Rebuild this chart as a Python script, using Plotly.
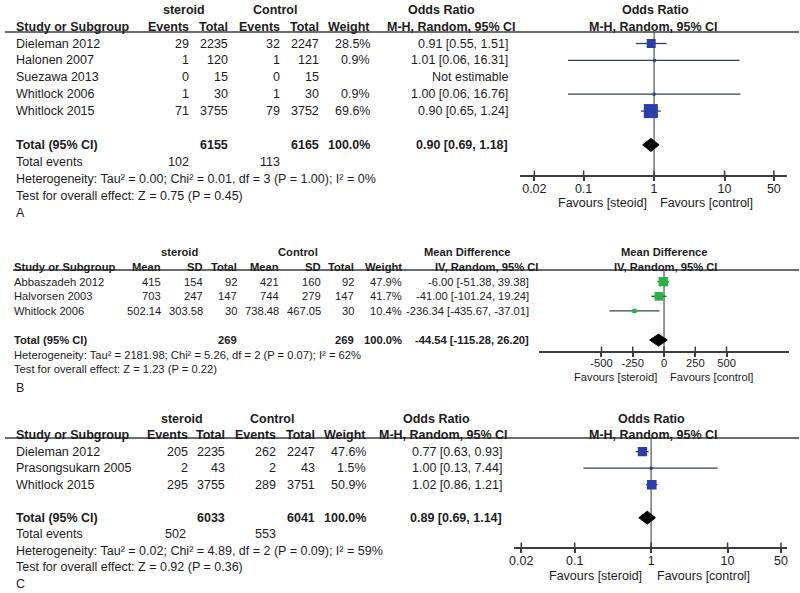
import math
import plotly.graph_objects as go

W, H = 800, 593
FONT = "Arial, 'Liberation Sans', sans-serif"
TXT = "#1c1c1c"
LINE = "#3d3d3d"
BLUE = "#2b3dae"
GREEN = "#24b444"
CI_COL = "#34444f"

# ---------------- Panel A data ----------------
A_studies = ["Dieleman 2012", "Halonen 2007", "Suezawa 2013", "Whitlock 2006", "Whitlock 2015"]
A_ev_s = [29, 1, 0, 1, 71]
A_tot_s = [2235, 120, 15, 30, 3755]
A_ev_c = [32, 1, 0, 1, 79]
A_tot_c = [2247, 121, 15, 30, 3752]
A_weight = [28.5, 0.9, None, 0.9, 69.6]
A_or = [0.91, 1.01, None, 1.00, 0.90]
A_lo = [0.55, 0.06, None, 0.06, 0.65]
A_hi = [1.51, 16.31, None, 16.76, 1.24]
A_total_n = [6155, 6165]
A_total_events = [102, 113]
A_total_eff = [0.90, 0.69, 1.18]
A_het = "Heterogeneity: Tau² = 0.00; Chi² = 0.01, df = 3 (P = 1.00); I² = 0%"
A_test = "Test for overall effect: Z = 0.75 (P = 0.45)"
A_ticks = [0.02, 0.1, 1, 10, 50]
A_ticklabels = ["0.02", "0.1", "1", "10", "50"]

# ---------------- Panel B data ----------------
B_studies = ["Abbaszadeh 2012", "Halvorsen 2003", "Whitlock 2006"]
B_mean_s = ["415", "703", "502.14"]
B_sd_s = ["154", "247", "303.58"]
B_tot_s = [92, 147, 30]
B_mean_c = ["421", "744", "738.48"]
B_sd_c = ["160", "279", "467.05"]
B_tot_c = [92, 147, 30]
B_weight = [47.9, 41.7, 10.4]
B_md = [-6.00, -41.00, -236.34]
B_lo = [-51.38, -101.24, -435.67]
B_hi = [39.38, 19.24, -37.01]
B_total_n = [269, 269]
B_total_eff = [-44.54, -115.28, 26.20]
B_het = "Heterogeneity: Tau² = 2181.98; Chi² = 5.26, df = 2 (P = 0.07); I² = 62%"
B_test = "Test for overall effect: Z = 1.23 (P = 0.22)"
B_ticks = [-500, -250, 0, 250, 500]
B_ticklabels = ["-500", "-250", "0", "250", "500"]

# ---------------- Panel C data ----------------
C_studies = ["Dieleman 2012", "Prasongsukarn 2005", "Whitlock 2015"]
C_ev_s = [205, 2, 295]
C_tot_s = [2235, 43, 3755]
C_ev_c = [262, 2, 289]
C_tot_c = [2247, 43, 3751]
C_weight = [47.6, 1.5, 50.9]
C_or = [0.77, 1.00, 1.02]
C_lo = [0.63, 0.13, 0.86]
C_hi = [0.93, 7.44, 1.21]
C_total_n = [6033, 6041]
C_total_events = [502, 553]
C_total_eff = [0.89, 0.69, 1.14]
C_het = "Heterogeneity: Tau² = 0.02; Chi² = 4.89, df = 2 (P = 0.09); I² = 59%"
C_test = "Test for overall effect: Z = 0.92 (P = 0.36)"
C_ticks = [0.02, 0.1, 1, 10, 50]
C_ticklabels = ["0.02", "0.1", "1", "10", "50"]

fig = go.Figure()
ann = []
shapes = []
layout_axes = {}


def text(x, y, s, anchor="left", size=12, bold=False):
    ann.append(dict(x=x / W, y=1 - y / H, xref="paper", yref="paper",
                    text=f"<b>{s}</b>" if bold else s, showarrow=False,
                    xanchor=anchor, yanchor="middle", borderpad=0,
                    font=dict(family=FONT, size=size, color=TXT)))


def hline(y, x0, x1):
    shapes.append(dict(type="line", xref="paper", yref="paper",
                       x0=x0 / W, x1=x1 / W, y0=1 - y / H, y1=1 - y / H,
                       line=dict(color=LINE, width=1.3)))


def fmt_eff(e, l, h):
    return f"{e:.2f} [{l:.2f}, {h:.2f}]"


def forest(idx, est, lo, hi, weights, tot, color, k, L):
    xa = "x" if idx == 1 else f"x{idx}"
    ya = "y" if idx == 1 else f"y{idx}"
    y0, dy = L["y0"], L["dy"]
    row = lambda px: (px - y0) / dy
    ytop, ybot = L["ydom"]
    yr = [row(ybot), row(ytop)]
    null = L["null"]
    # null line
    fig.add_trace(go.Scatter(x=[null, null], y=yr, mode="lines",
                             line=dict(color="#555555", width=1.2),
                             xaxis=xa, yaxis=ya, hoverinfo="skip", showlegend=False))
    # inner halves of the crossing ticks
    tx, ty = [], []
    for t in L["ticks"]:
        tx += [t, t, None]
        ty += [row(ybot - 4.5), row(ybot), None]
    fig.add_trace(go.Scatter(x=tx, y=ty, mode="lines", line=dict(color=LINE, width=1.5),
                             xaxis=xa, yaxis=ya, hoverinfo="skip", showlegend=False))
    # CI lines
    xs, ys = [], []
    for r, (e, l, h) in enumerate(zip(est, lo, hi)):
        if e is None:
            continue
        xs += [l, h, None]
        ys += [r, r, None]
    fig.add_trace(go.Scatter(x=xs, y=ys, mode="lines", line=dict(color=CI_COL, width=1.3),
                             xaxis=xa, yaxis=ya, hoverinfo="skip", showlegend=False))
    # squares
    sx, sy, ss = [], [], []
    for r, (e, w) in enumerate(zip(est, weights)):
        if e is None:
            continue
        sx.append(e)
        sy.append(r)
        ss.append(max(3.0, k * math.sqrt(w)))
    fig.add_trace(go.Scatter(x=sx, y=sy, mode="markers",
                             marker=dict(symbol="square", size=ss, color=color, opacity=1,
                                         line=dict(width=0)),
                             xaxis=xa, yaxis=ya, hoverinfo="skip", showlegend=False))
    # diamond
    e, l, h = tot
    r = L["total_row"]
    hh = L["dh"] / dy
    fig.add_trace(go.Scatter(x=[l, e, h, e, l], y=[r, r - hh, r, r + hh, r], mode="lines",
                             fill="toself", fillcolor="black", line=dict(color="black", width=1),
                             xaxis=xa, yaxis=ya, hoverinfo="skip", showlegend=False))
    xname = "xaxis" if idx == 1 else f"xaxis{idx}"
    yname = "yaxis" if idx == 1 else f"yaxis{idx}"
    layout_axes[xname] = dict(domain=[L["xdom"][0] / W, L["xdom"][1] / W], range=L["xrange"],
                              type=L["xtype"], anchor=ya, showgrid=False, zeroline=False,
                              showline=True, linecolor=LINE, linewidth=1.5,
                              ticks="outside", ticklen=4, tickwidth=1.5, tickcolor=LINE,
                              tickvals=L["ticks"], ticktext=L["ticklabels"],
                              ticklabelstandoff=-3,
                              tickfont=dict(family=FONT, size=L["tfont"], color=TXT),
                              fixedrange=True)
    layout_axes[yname] = dict(domain=[1 - ybot / H, 1 - ytop / H], range=yr, visible=False,
                              anchor=xa, fixedrange=True)


# ================= Panel A =================
ya0, yad = 43.5, 16.9
yA = lambda r: ya0 + yad * r
fs = 12.5
text(180, yA(-2), "steroid", "center", fs, True)
text(272, yA(-2), "Control", "center", fs, True)
text(440, yA(-2), "Odds Ratio", "center", fs, True)
text(655, yA(-2), "Odds Ratio", "center", fs, True)
text(10, yA(-1), "Study or Subgroup", "left", fs, True)
for s, xr in zip(["Events", "Total", "Events", "Total", "Weight", "M-H, Random, 95% CI"],
                 [186, 226, 278, 317, 369, 516]):
    text(xr, yA(-1), s, "right", fs, True)
text(653, yA(-1), "M-H, Random, 95% CI", "center", fs, True)
hline(32, 0, 800)
for i, st in enumerate(A_studies):
    text(10, yA(i), st, "left", fs)
    for v, xr in zip([A_ev_s[i], A_tot_s[i], A_ev_c[i], A_tot_c[i]], [186, 226, 278, 317]):
        text(xr, yA(i), str(v), "right", fs)
    if A_weight[i] is not None:
        text(369, yA(i), f"{A_weight[i]:.1f}%", "right", fs)
        text(508, yA(i), fmt_eff(A_or[i], A_lo[i], A_hi[i]), "right", fs)
    else:
        text(508, yA(i), "Not estimable", "right", fs)
text(10, yA(6), "Total (95% CI)", "left", fs, True)
text(226, yA(6), str(A_total_n[0]), "right", fs, True)
text(317, yA(6), str(A_total_n[1]), "right", fs, True)
text(369, yA(6), "100.0%", "right", fs, True)
text(508, yA(6), fmt_eff(*A_total_eff), "right", fs, True)
text(10, yA(7), "Total events", "left", fs)
text(186, yA(7), str(A_total_events[0]), "right", fs)
text(278, yA(7), str(A_total_events[1]), "right", fs)
text(10, yA(8), A_het, "left", fs)
text(10, yA(9), A_test, "left", fs)
text(10, yA(10), "A", "left", fs)
text(648, 202.5, "Favours [steoid]", "right", fs)
text(659, 202.5, "Favours [control]", "left", fs)
forest(1, A_or, A_lo, A_hi, [w if w is not None else 0 for w in A_weight], A_total_eff, BLUE, 1.68,
       dict(y0=ya0, dy=yad, ydom=(32, 175), null=1, ticks=A_ticks, ticklabels=A_ticklabels,
            xdom=(519, 788), xrange=[-1.901, 1.887], xtype="log", tfont=12.5, total_row=6, dh=6.5))

# ================= Panel B =================
yb0, ybd = 281.7, 14.6
yB = lambda r: yb0 + ybd * r
fs = 11.2
text(176, yB(-2), "steroid", "center", fs, True)
text(295, yB(-2), "Control", "center", fs, True)
text(465, yB(-2), "Mean Difference", "center", fs, True)
text(664, yB(-2), "Mean Difference", "center", fs, True)
text(8, yB(-1), "Study or Subgroup", "left", fs, True)
for s, xr in zip(["Mean", "SD", "Total", "Mean", "SD", "Total", "Weight", "IV, Random, 95% CI"],
                 [158, 200, 235, 277, 319, 353, 401, 538]):
    text(xr, yB(-1), s, "right", fs, True)
text(665, yB(-1), "IV, Random, 95% CI", "center", fs, True)
hline(270, 8, 800)
for i, st in enumerate(B_studies):
    text(8, yB(i), st, "left", fs)
    for v, xr in zip([B_mean_s[i], B_sd_s[i], B_tot_s[i], B_mean_c[i], B_sd_c[i], B_tot_c[i]],
                     [158, 200, 235, 277, 319, 353]):
        text(xr, yB(i), str(v), "right", fs)
    text(401, yB(i), f"{B_weight[i]:.1f}%", "right", fs)
    text(529, yB(i), fmt_eff(B_md[i], B_lo[i], B_hi[i]), "right", fs)
text(8, yB(4), "Total (95% CI)", "left", fs, True)
text(235, yB(4), str(B_total_n[0]), "right", fs, True)
text(353, yB(4), str(B_total_n[1]), "right", fs, True)
text(401, yB(4), "100.0%", "right", fs, True)
text(529, yB(4), fmt_eff(*B_total_eff), "right", fs, True)
text(8, yB(5), B_het, "left", fs)
text(8, yB(6), B_test, "left", fs)
text(10, 388, "B", "left", 12.5)
text(658, 376.5, "Favours [steroid]", "right", fs)
text(669, 376.5, "Favours [control]", "left", fs)
forest(2, B_md, B_lo, B_hi, B_weight, B_total_eff, GREEN, 1.35,
       dict(y0=yb0, dy=ybd, ydom=(270, 351), null=0, ticks=B_ticks, ticklabels=B_ticklabels,
            xdom=(538, 790), xrange=[-1000, 1000], xtype="linear", tfont=11.2, total_row=4, dh=6))

# ================= Panel C =================
yc0, ycd = 451.7, 16.5
yC = lambda r: yc0 + ycd * r
fs = 12.5
text(178, yC(-2), "steroid", "center", fs, True)
text(269, yC(-2), "Control", "center", fs, True)
text(435, yC(-2), "Odds Ratio", "center", fs, True)
text(651, yC(-2), "Odds Ratio", "center", fs, True)
text(10, yC(-1), "Study or Subgroup", "left", fs, True)
for s, xr in zip(["Events", "Total", "Events", "Total", "Weight", "M-H, Random, 95% CI"],
                 [185, 223, 274, 313, 365, 508]):
    text(xr, yC(-1), s, "right", fs, True)
text(653, yC(-1), "M-H, Random, 95% CI", "center", fs, True)
hline(438, 0, 800)
for i, st in enumerate(C_studies):
    text(10, yC(i), st, "left", fs)
    for v, xr in zip([C_ev_s[i], C_tot_s[i], C_ev_c[i], C_tot_c[i]], [185, 223, 274, 313]):
        text(xr, yC(i), str(v), "right", fs)
    text(365, yC(i), f"{C_weight[i]:.1f}%", "right", fs)
    text(502, yC(i), fmt_eff(C_or[i], C_lo[i], C_hi[i]), "right", fs)
text(10, yC(4), "Total (95% CI)", "left", fs, True)
text(223, yC(4), str(C_total_n[0]), "right", fs, True)
text(313, yC(4), str(C_total_n[1]), "right", fs, True)
text(365, yC(4), "100.0%", "right", fs, True)
text(502, yC(4), fmt_eff(*C_total_eff), "right", fs, True)
text(10, yC(5), "Total events", "left", fs)
text(183, yC(5), str(C_total_events[0]), "right", fs)
text(274, yC(5), str(C_total_events[1]), "right", fs)
text(10, yC(6), C_het, "left", fs)
text(10, yC(7), C_test, "left", fs)
text(10, yC(8), "C", "left", fs)
text(643, 575.5, "Favours [steroid]", "right", fs)
text(656, 575.5, "Favours [control]", "left", fs)
forest(3, C_or, C_lo, C_hi, C_weight, C_total_eff, BLUE, 1.35,
       dict(y0=yc0, dy=ycd, ydom=(438, 547), null=1, ticks=C_ticks, ticklabels=C_ticklabels,
            xdom=(513, 788), xrange=[-1.792, 1.779], xtype="log", tfont=12.5, total_row=4, dh=6.5))

fig.update_layout(width=W, height=H, margin=dict(l=0, r=0, t=0, b=0),
                  paper_bgcolor="white", plot_bgcolor="white", showlegend=False,
                  annotations=ann, shapes=shapes, **layout_axes)
fig.write_html("out.html", config={"displayModeBar": False},
               post_script="document.body.style.margin='0';document.body.style.padding='0';")
